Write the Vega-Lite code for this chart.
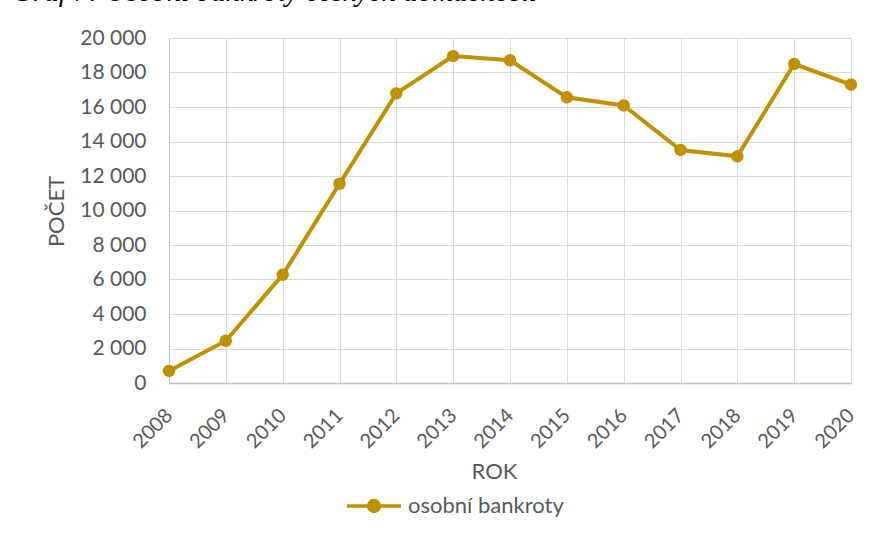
{
  "$schema": "https://vega.github.io/schema/vega-lite/v6.json",
  "width": 682,
  "height": 345,
  "autosize": {"type": "none"},
  "padding": {"left": 169, "top": 38, "right": 25, "bottom": 153},
  "background": "white",
  "title": {
    "text": "Graf 7: Osobní bankroty českých domácností",
    "anchor": "start",
    "frame": "group",
    "orient": "top",
    "offset": 23,
    "dx": -157,
    "dy": 26,
    "baseline": "alphabetic",
    "font": "Liberation Serif",
    "fontStyle": "italic",
    "fontWeight": "normal",
    "fontSize": 29,
    "color": "#000000"
  },
  "config": {
    "view": {"stroke": null},
    "font": "Lato"
  },
  "data": {
    "values": [
      {"rok": "2008", "pocet": 700, "serie": "osobní bankroty"},
      {"rok": "2009", "pocet": 2450, "serie": "osobní bankroty"},
      {"rok": "2010", "pocet": 6270, "serie": "osobní bankroty"},
      {"rok": "2011", "pocet": 11550, "serie": "osobní bankroty"},
      {"rok": "2012", "pocet": 16790, "serie": "osobní bankroty"},
      {"rok": "2013", "pocet": 18950, "serie": "osobní bankroty"},
      {"rok": "2014", "pocet": 18710, "serie": "osobní bankroty"},
      {"rok": "2015", "pocet": 16560, "serie": "osobní bankroty"},
      {"rok": "2016", "pocet": 16090, "serie": "osobní bankroty"},
      {"rok": "2017", "pocet": 13510, "serie": "osobní bankroty"},
      {"rok": "2018", "pocet": 13140, "serie": "osobní bankroty"},
      {"rok": "2019", "pocet": 18490, "serie": "osobní bankroty"},
      {"rok": "2020", "pocet": 17300, "serie": "osobní bankroty"}
    ]
  },
  "encoding": {
    "x": {
      "field": "rok",
      "type": "ordinal",
      "scale": {"type": "point", "padding": 0},
      "axis": {
        "title": "ROK",
        "titleFont": "Lato",
        "titleFontSize": 22,
        "titleFontWeight": "normal",
        "titleColor": "#595959",
        "titleX": 325,
        "titleY": 88,
        "titleBaseline": "middle",
        "titleAlign": "center",
        "labelAngle": -45,
        "labelAlign": "right",
        "labelBaseline": "middle",
        "labelPadding": 29,
        "labelFont": "Lato",
        "labelFontSize": 20,
        "labelColor": "#595959",
        "ticks": false,
        "grid": true,
        "gridColor": "#d9d9d9",
        "gridWidth": 1,
        "domainColor": "#bfbfbf",
        "domainWidth": 1.5
      }
    },
    "y": {
      "field": "pocet",
      "type": "quantitative",
      "scale": {"domain": [0, 20000], "nice": false},
      "axis": {
        "values": [0, 2000, 4000, 6000, 8000, 10000, 12000, 14000, 16000, 18000, 20000],
        "labelExpr": "replace(format(datum.value, ',d'), ',', ' ')",
        "title": "POČET",
        "titleFont": "Lato",
        "titleFontSize": 22,
        "titleFontWeight": "normal",
        "titleColor": "#595959",
        "titleX": -113,
        "titleY": 173,
        "titleAngle": -90,
        "titleBaseline": "middle",
        "titleAlign": "center",
        "labelFont": "Lato",
        "labelFontSize": 21,
        "labelColor": "#595959",
        "labelPadding": 23,
        "ticks": false,
        "grid": true,
        "gridColor": "#d9d9d9",
        "gridWidth": 1,
        "domainColor": "#bfbfbf",
        "domainWidth": 1
      }
    },
    "color": {
      "field": "serie",
      "type": "nominal",
      "scale": {"range": ["#BF9000"]},
      "legend": {
        "title": null,
        "orient": "none",
        "legendX": 176,
        "legendY": 439,
        "padding": 0,
        "symbolType": "M-1,0H1M0.2,0A0.2,0.2,0,1,1,-0.2,0A0.2,0.2,0,1,1,0.2,0Z",
        "symbolSize": 2916,
        "symbolStrokeWidth": 3.5,
        "symbolStrokeColor": "#BF9000",
        "symbolFillColor": "#BF9000",
        "symbolOpacity": 1,
        "labelFont": "Lato",
        "labelFontSize": 22,
        "labelColor": "#595959",
        "labelOffset": 5
      }
    }
  },
  "layer": [
    {"mark": {"type": "line", "strokeWidth": 4}},
    {"mark": {"type": "point", "filled": true, "size": 155, "opacity": 1}}
  ]
}
